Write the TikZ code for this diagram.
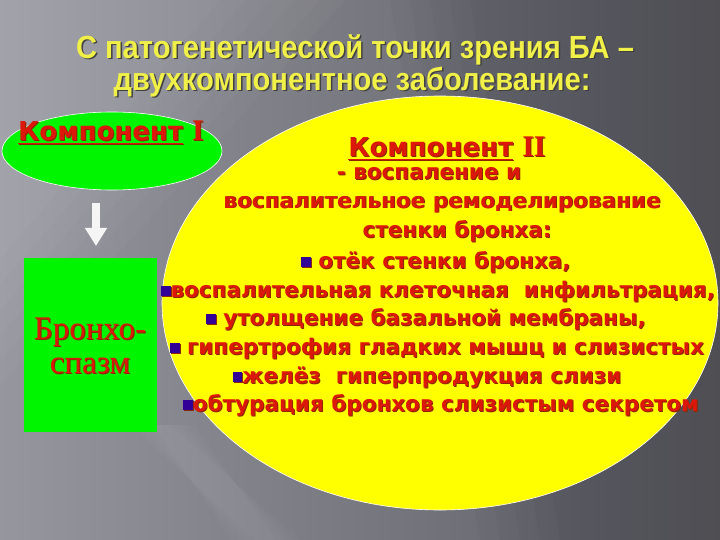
\documentclass[tikz,border=0pt]{standalone}
\usepackage{fontspec}
\setmainfont{DejaVu Sans}
\newfontfamily\titlefont[FakeStretch=0.91]{Liberation Sans}
\newfontfamily\bodyfont{DejaVu Sans}
\newfontfamily\serfont{Liberation Serif}
\usetikzlibrary{arrows.meta,shapes.geometric}
\definecolor{bgL}{RGB}{150,150,158}
\definecolor{bgR}{RGB}{90,90,98}
\definecolor{titley}{RGB}{240,240,72}
\definecolor{txtred}{RGB}{220,24,10}
\definecolor{shred}{RGB}{140,40,0}
\definecolor{bulblue}{RGB}{50,0,150}
\definecolor{grn}{RGB}{0,245,0}
\definecolor{ylw}{RGB}{255,255,0}
\newcommand{\bulcol}{bulblue}
\newcommand{\bul}{\textcolor{\bulcol}{\rule[1.5pt]{9.5pt}{9.5pt}}}
\newcommand{\romI}[1]{{\serfont\bfseries\fontsize{30}{30}\selectfont #1}}
\tikzset{
  titletxt/.style={font=\titlefont\bfseries\fontsize{32}{32}\selectfont, text=titley, anchor=base, inner sep=0},
  titlesh/.style={titletxt, text=black!75},
  bodytxt/.style={font=\bodyfont\bfseries\fontsize{21.5}{21.5}\selectfont, text=txtred, anchor=base, inner sep=0},
  bodysh/.style={bodytxt, text=shred, execute at begin node={\renewcommand{\bulcol}{shred}}},
  headtxt/.style={bodytxt, font=\bodyfont\bfseries\fontsize{26}{26}\selectfont},
  headsh/.style={headtxt, text=shred},
  sertxt/.style={font=\serfont\fontsize{33}{33}\selectfont, text=txtred, anchor=base, inner sep=0},
  sersh/.style={sertxt, text=shred},
  outl/.style={draw=white, line width=0.6pt}
}
\begin{document}
\begin{tikzpicture}[x=1pt,y=-1pt]
\useasboundingbox (0,0) rectangle (720,540);
% background
\shade[left color=bgL, right color=bgR] (0,0) rectangle (720,540);
\foreach \k in {0,1,2,3,4,5} {
  \fill[white, opacity=0.025] (0,0) -- (220+25*\k,0) -- (0,260+25*\k) -- cycle;
}
\foreach \k in {0,1,2,3} {
  \fill[white, opacity=0.02] (130+8*\k,425) -- (170+8*\k,425) -- (300-8*\k,540) -- (255-8*\k,540) -- cycle;
}
\foreach \k in {0,1,2,3,4} {
  \fill[black, opacity=0.025] (470-20*\k,0) -- (720,0) -- (720,540) -- (560-20*\k,540) -- cycle;
}

% title
\node[titlesh] at (356.5,60) {С патогенетической точки зрения БА –};
\node[titletxt] (t1) at (355,58.5) {С патогенетической точки зрения БА –};
\node[titlesh] at (353.5,92) {двухкомпонентное заболевание:};
\node[titletxt] (t2) at (352,90.5) {двухкомпонентное заболевание:};

% component II ellipse
\node[ellipse, fill=ylw, outl, minimum width=556pt, minimum height=414pt, inner sep=0] (e2) at (440,303) {};

% component I ellipse
\node[ellipse, fill=grn, outl, minimum width=220pt, minimum height=78pt, inner sep=0] (e1) at (112,151) {};

% green rectangle
\node[rectangle, fill=grn, minimum width=133pt, minimum height=174pt, inner sep=0] (r1) at (90.5,345) {};

% arrow
\coordinate (a1) at (96,203);
\coordinate (a2) at (96,246);
\draw[white!92!gray, line width=8pt, -{Triangle[width=21pt,length=18pt]}] (a1) -- (a2);

% component I text
\node[headsh] at (112,142) {\underline{Компонент}~\romI{I}};
\node[headtxt] (c1) at (111,141) {\underline{Компонент}~\romI{I}};

% bronchospasm
\node[sersh] at (91,340) {Бронхо-};
\node[sertxt] (b1) at (90,339) {Бронхо-};
\node[sersh] at (91,374) {спазм};
\node[sertxt] (b2) at (90,373) {спазм};

% component II heading
\node[headsh] at (448,158) {\underline{Компонент}~\romI{II}};
\node[headtxt] (h2) at (447,157) {\underline{Компонент}~\romI{II}};

% component II text
\foreach \y/\x/\t [count=\i] in {
  180/429/{- воспаление и},
  208/442/{воспалительное ремоделирование},
  237/457/{стенки бронха:},
  268/436/{\bul\ отёк стенки бронха,},
  297/438/{\bul воспалительная клеточная\ \ инфильтрация,},
  325/426/{\bul\ утолщение базальной мембраны,},
  354/437/{\bul\ гипертрофия гладких мышц и слизистых},
  383/427/{\bul желёз\ \ гиперпродукция слизи},
  411/441/{\bul обтурация бронхов слизистым секретом}}
{
  \node[bodysh] at (\x+1,\y+1) {\t};
  \node[bodytxt] (l\i) at (\x,\y) {\t};
}
\end{tikzpicture}
\end{document}
